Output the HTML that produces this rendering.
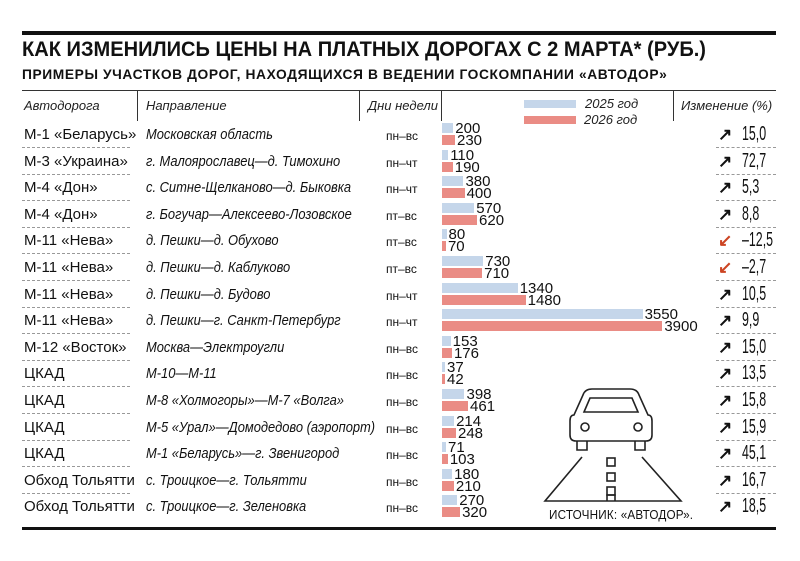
<!DOCTYPE html><html><head><meta charset="utf-8"><style>
body{margin:0;width:800px;height:561px;background:#fff;font-family:"Liberation Sans",sans-serif;position:relative;overflow:hidden;color:#111}
.a{position:absolute;white-space:nowrap}
.t{left:22px;top:38px;font-size:21px;font-weight:bold;transform:scaleX(.955);transform-origin:left}
.s{left:22px;top:66px;font-size:14px;font-weight:bold;letter-spacing:0.6px;transform:scaleX(.985);transform-origin:left}
.h{font-size:13px;font-style:italic;color:#222}
.r{font-size:15px}
.d{font-size:15px;font-style:italic;transform:scaleX(.86);transform-origin:left}
.w{font-size:12px}
.n{font-size:15px;line-height:13px}
.c{font-size:20px;transform:scaleX(.62);transform-origin:left center}
</style></head><body>
<div class="a" style="left:22px;top:31px;width:754px;height:4px;background:#111"></div>
<div class="a t">КАК ИЗМЕНИЛИСЬ ЦЕНЫ НА ПЛАТНЫХ ДОРОГАХ С 2 МАРТА* (РУБ.)</div>
<div class="a s">ПРИМЕРЫ УЧАСТКОВ ДОРОГ, НАХОДЯЩИХСЯ В ВЕДЕНИИ ГОСКОМПАНИИ «АВТОДОР»</div>
<div class="a" style="left:22px;top:90px;width:754px;height:1px;background:#333"></div>
<div class="a" style="left:137px;top:91px;width:1px;height:30px;background:#333"></div>
<div class="a" style="left:359px;top:91px;width:1px;height:30px;background:#333"></div>
<div class="a" style="left:441px;top:91px;width:1px;height:30px;background:#333"></div>
<div class="a" style="left:673px;top:91px;width:1px;height:30px;background:#333"></div>
<div class="a h" style="left:24px;top:98px">Автодорога</div>
<div class="a h" style="left:146px;top:98px">Направление</div>
<div class="a h" style="left:368px;top:98px">Дни недели</div>
<div class="a h" style="left:681px;top:98px">Изменение (%)</div>
<div class="a" style="left:524px;top:100px;width:52px;height:8px;background:#c5d6ea"></div>
<div class="a" style="left:524px;top:116px;width:52px;height:8px;background:#ea8c85"></div>
<div class="a h" style="left:585px;top:96px">2025 год</div>
<div class="a h" style="left:584px;top:112px">2026 год</div>
<div class="a" style="left:22px;top:527px;width:754px;height:3px;background:#111"></div>
<div id="rows"></div>
<svg class="a" style="left:540px;top:375px" width="150" height="130" viewBox="0 0 150 130">
<g fill="none" stroke="#222" stroke-width="1.6">
<path d="M43 20 Q45 14 52 14 L90 14 Q97 14 99 20 L108 40 Q112 40 112 46 L112 60 Q112 66 106 66 L36 66 Q30 66 30 60 L30 46 Q30 40 34 40 Z"/>
<path d="M50 23 L92 23 L98 37 L44 37 Z"/>
<circle cx="45" cy="52" r="4"/><circle cx="98" cy="52" r="4"/>
<path d="M37 66 L37 75 L47 75 L47 66 M95 66 L95 75 L105 75 L105 66"/>
<path d="M42 82 L5 126 L141 126 L102 82"/>
<rect x="67" y="83" width="8" height="8"/><rect x="67" y="98" width="8" height="8"/><rect x="67" y="112" width="8" height="8"/><path d="M67 126 L67 120 L75 120 L75 126"/>
</g></svg>
<div class="a" style="left:549px;top:507px;font-size:13px;letter-spacing:.2px;transform:scaleX(.9);transform-origin:left">ИСТОЧНИК: «АВТОДОР».</div>
<script>
var D=[["М-1 «Беларусь»","Московская область","пн–вс",200,230,"15,0"],
["М-3 «Украина»","г. Малоярославец—д. Тимохино","пн–чт",110,190,"72,7"],
["М-4 «Дон»","с. Ситне-Щелканово—д. Быковка","пн–чт",380,400,"5,3"],
["М-4 «Дон»","г. Богучар—Алексеево-Лозовское","пт–вс",570,620,"8,8"],
["М-11 «Нева»","д. Пешки—д. Обухово","пт–вс",80,70,"–12,5"],
["М-11 «Нева»","д. Пешки—д. Каблуково","пт–вс",730,710,"–2,7"],
["М-11 «Нева»","д. Пешки—д. Будово","пн–чт",1340,1480,"10,5"],
["М-11 «Нева»","д. Пешки—г. Санкт-Петербург","пн–чт",3550,3900,"9,9"],
["М-12 «Восток»","Москва—Электроугли","пн–вс",153,176,"15,0"],
["ЦКАД","М-10—М-11","пн–вс",37,42,"13,5"],
["ЦКАД","М-8 «Холмогоры»—М-7 «Волга»","пн–вс",398,461,"15,8"],
["ЦКАД","М-5 «Урал»—Домодедово (аэропорт)","пн–вс",214,248,"15,9"],
["ЦКАД","М-1 «Беларусь»—г. Звенигород","пн–вс",71,103,"45,1"],
["Обход Тольятти","с. Троицкое—г. Тольятти","пн–вс",180,210,"16,7"],
["Обход Тольятти","с. Троицкое—г. Зеленовка","пн–вс",270,320,"18,5"]];
var h="",k=0.0565;
D.forEach(function(d,i){var t=121+26.6*i,neg=d[5][0]=="–";
h+='<div class="a r" style="left:24px;top:'+(t+5)+'px">'+d[0]+'</div>';
h+='<div class="a d" style="left:146px;top:'+(t+5)+'px">'+d[1]+'</div>';
h+='<div class="a w" style="left:386px;top:'+(t+8)+'px">'+d[2]+'</div>';
var b1=Math.max(3,d[3]*k),b2=Math.max(3,d[4]*k);
h+='<div class="a" style="left:442px;top:'+(t+2)+'px;width:'+b1+'px;height:10px;background:#c5d6ea"></div>';
h+='<div class="a" style="left:442px;top:'+(t+14)+'px;width:'+b2+'px;height:10px;background:#ea8c85"></div>';
h+='<div class="a n" style="left:'+(444+b1)+'px;top:'+(t+1)+'px">'+d[3]+'</div>';
h+='<div class="a n" style="left:'+(444+b2)+'px;top:'+(t+13)+'px">'+d[4]+'</div>';
h+='<div class="a" style="left:718px;top:'+(t+4)+'px;font-size:17px;font-weight:bold;color:'+(neg?'#c42':'#111')+'">'+(neg?'↙':'↗')+'</div>';
h+='<div class="a c" style="left:742px;top:'+(t+2)+'px">'+d[5]+'</div>';
if(i<14){h+='<div class="a" style="left:22px;top:'+(t+26)+'px;width:108px;border-top:1px dashed #999"></div>';
h+='<div class="a" style="left:716px;top:'+(t+26)+'px;width:60px;border-top:1px dashed #999"></div>';}
});
document.getElementById("rows").innerHTML=h;
</script>
</body></html>
